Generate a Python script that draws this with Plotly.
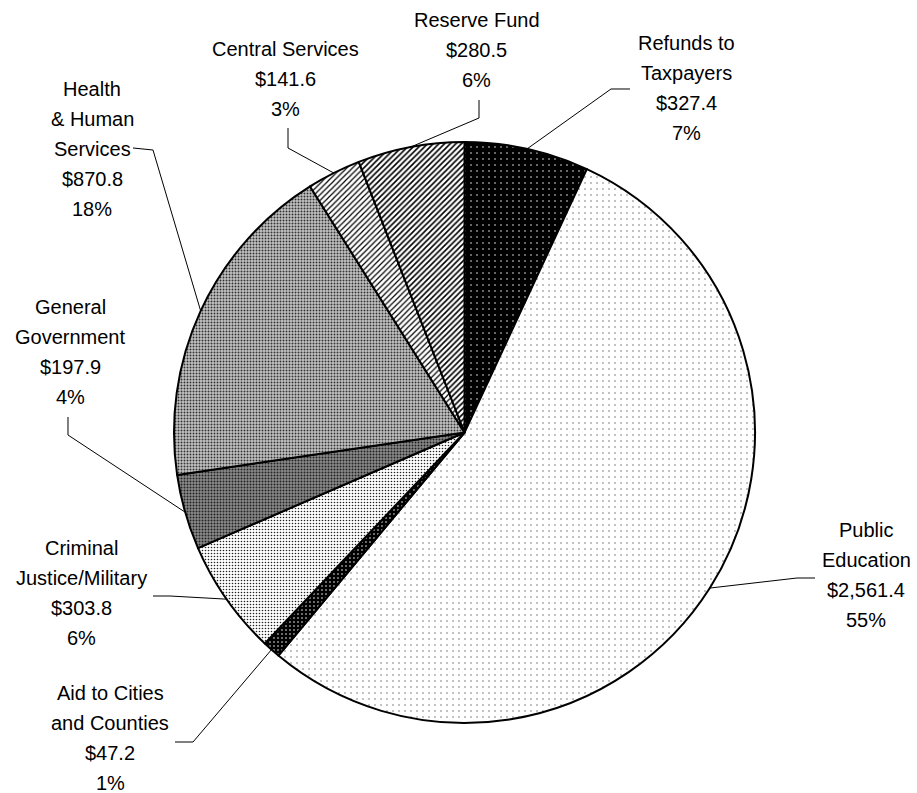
import math
import plotly.graph_objects as go

# ---------------- data ----------------
categories = ["Refunds to Taxpayers", "Public Education", "Aid to Cities and Counties",
              "Criminal Justice/Military", "General Government", "Health & Human Services",
              "Central Services", "Reserve Fund"]
values = [327.4, 2561.4, 47.2, 303.8, 197.9, 870.8, 141.6, 280.5]
name_lines = [["Refunds to", "Taxpayers"], ["Public", "Education"], ["Aid to Cities", "and Counties"],
              ["Criminal", "Justice/Military"], ["General", "Government"],
              ["Health", "& Human", "Services"], ["Central Services"], ["Reserve Fund"]]
pct_labels = ["7%", "55%", "1%", "6%", "4%", "18%", "3%", "6%"]

# ---------------- layout / style ----------------
W, H = 917, 793
CX, CY, R = 464.5, 432.5, 290.5
FONT = "Liberation Sans, Arial, sans-serif"
FS = 20
LINE_H = 30

# label block: center x, first line y (pixels), and leader waypoints (pixels)
label_pos = [
    (686, 43, [(630, 89), (611, 89)]),
    (866, 530, [(815, 578), (797, 578)]),
    (110, 693, [(175, 742), (193, 742)]),
    (81, 548, [(153, 596), (170, 596)]),
    (70, 307, [(68, 417), (68, 435)]),
    (92, 89, [(133, 148), (153, 150)]),
    (285, 49, [(288, 128), (288, 148)]),
    (477, 20, [(479, 100), (479, 118)]),
]

pat_shape = [".", ".", ".", ".", ".", ".", "/", "/"]
pat_fg = ["white", "#666666", "white", "#222222", "#222222", "#333333", "black", "black"]
pat_bg = ["black", "white", "black", "white", "#8a8a8a", "#c4c4c4", "white", "white"]
pat_size = [6, 6, 4, 3, 3, 3, 4, 4]
pat_sol = [0.05, 0.05, 0.12, 0.22, 0.35, 0.35, 0.3, 0.4]


def px_to_paper(x, y):
    return x / W, 1 - y / H


fig = go.Figure()
fig.add_trace(go.Pie(
    labels=categories, values=values, sort=False, direction="clockwise", rotation=0,
    textinfo="none", hoverinfo="label+value+percent",
    domain=dict(x=[(CX - R) / W, (CX + R) / W], y=[1 - (CY + R) / H, 1 - (CY - R) / H]),
    marker=dict(line=dict(color="black", width=2),
                pattern=dict(shape=pat_shape, fgcolor=pat_fg, bgcolor=pat_bg,
                             size=pat_size, solidity=pat_sol, fillmode="replace")),
))

total = sum(values)
cum = 0.0
annotations = []
shapes = []
for i, v in enumerate(values):
    mid = (cum + v / 2) / total * 2 * math.pi
    cum += v
    ex = CX + R * math.sin(mid)
    ey = CY - R * math.cos(mid)
    cx, y0, pts = label_pos[i]
    lines = name_lines[i] + ["${:,.1f}".format(v), pct_labels[i]]
    for k, t in enumerate(lines):
        ax, ay = px_to_paper(cx, y0 + k * LINE_H)
        annotations.append(dict(x=ax, y=ay, xref="paper", yref="paper", text=t, showarrow=False,
                                xanchor="center", yanchor="middle",
                                font=dict(family=FONT, size=FS, color="black")))
    path_pts = pts + [(ex, ey)]
    d = ""
    for j, (x, y) in enumerate(path_pts):
        px, py = px_to_paper(x, y)
        d += ("M" if j == 0 else " L") + f"{px:.5f},{py:.5f}"
    shapes.append(dict(type="path", xref="paper", yref="paper", path=d,
                       line=dict(color="black", width=1)))

fig.update_layout(width=W, height=H, margin=dict(l=0, r=0, t=0, b=0),
                  paper_bgcolor="white", plot_bgcolor="white", showlegend=False,
                  annotations=annotations, shapes=shapes)
fig.write_html("out.html", config={"displayModeBar": False},
               post_script="document.body.style.margin='0px';")
